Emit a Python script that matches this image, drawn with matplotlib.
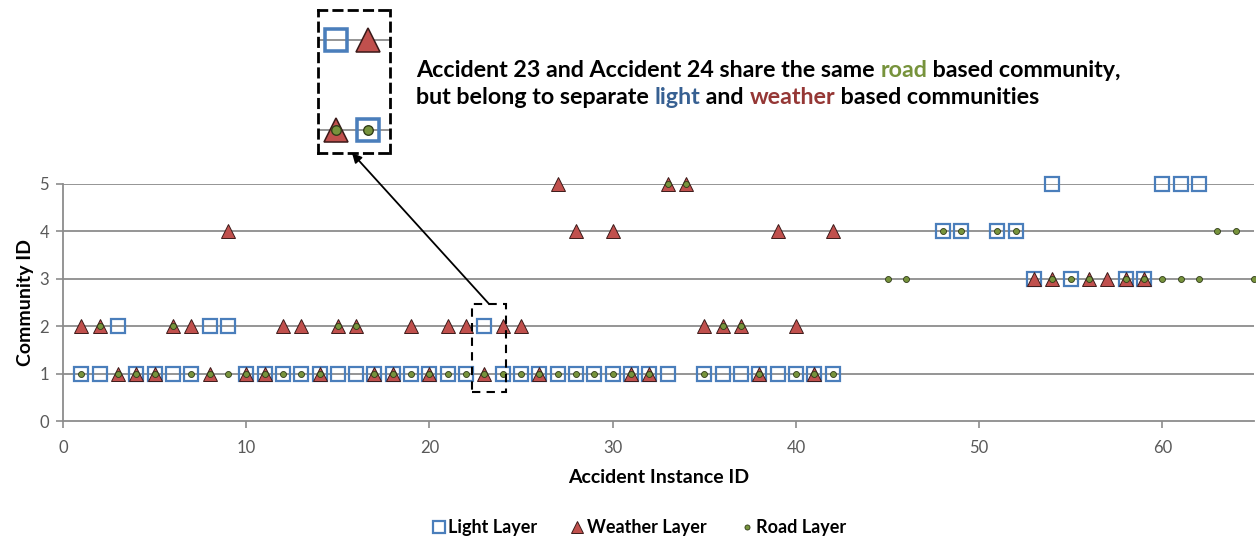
import numpy as np
import matplotlib
matplotlib.use("Agg")
import matplotlib.pyplot as plt
from matplotlib.patches import Rectangle

plt.rcParams['font.family'] = ['Lato', 'DejaVu Sans']

nan = np.nan
ids = np.arange(1, 66)

# community id per accident instance (nan = not drawn)
light = [1, 1, 2, 1, 1, 1, 1, 2, 2, 1,
         1, 1, 1, 1, 1, 1, 1, 1, 1, 1,
         1, 1, 2, 1, 1, 1, 1, 1, 1, 1,
         1, 1, 1, nan, 1, 1, 1, 1, 1, 1,
         1, 1, nan, nan, nan, nan, nan, 4, 4, nan,
         4, 4, 3, 5, 3, nan, nan, 3, 3, 5,
         5, 5, nan, nan, nan]
weather = [2, 2, 1, 1, 1, 2, 2, 1, 4, 1,
           1, 2, 2, 1, 2, 2, 1, 1, 2, 1,
           2, 2, 1, 2, 2, 1, 5, 4, nan, 4,
           1, 1, 5, 5, 2, 2, 2, 1, 4, 2,
           1, 4, nan, nan, nan, nan, nan, nan, nan, nan,
           nan, nan, 3, 3, nan, 3, 3, 3, 3, nan,
           nan, nan, nan, nan, nan]
road = [1, 2, 1, 1, 1, 2, 1, 1, 1, 1,
        1, 1, 1, 1, 2, 2, 1, 1, 1, 1,
        1, 1, 1, 1, 1, 1, 1, 1, 1, 1,
        1, 1, 5, 5, 1, 2, 2, 1, nan, 1,
        1, 1, nan, nan, 3, 3, nan, 4, 4, nan,
        4, 4, nan, 3, 3, 3, nan, 3, 3, 3,
        3, 3, 4, 4, 3]

zoom_ids = [23, 24]

blue = '#4A7EBB'
red = '#C0504D'
green = '#77933C'
grid_c = '#8C8C8C'
tick_c = '#595959'

W, H = 1256, 539
fig = plt.figure(figsize=(W / 100, H / 100), dpi=100)
ax = fig.add_axes([63 / W, 1 - 421 / H, (1254 - 63) / W, (421 - 184) / H])


def draw_layers(a, x, l, w, r, big=False):
    s = 1.6 if big else 1.0
    a.plot(x, l, ls='none', marker='s', ms=10 * s, mfc='none', mec=blue,
           mew=1.6 * s, clip_on=False, zorder=3, label='Light Layer')
    a.plot(x, w, ls='none', marker='^', ms=10.5 * s, mfc=red, mec='#3B1A19',
           mew=0.7 * s, clip_on=False, zorder=4, label='Weather Layer')
    a.plot(x, r, ls='none', marker='o', ms=4.3 * s, mfc=green, mec='#2E3A17',
           mew=0.6 * s, clip_on=False, zorder=5, label='Road Layer')


draw_layers(ax, ids, light, weather, road)

ax.set_xlim(0, 65)
ax.set_ylim(0, 5)
ax.set_xticks(range(0, 61, 10))
ax.set_yticks(range(0, 6))
for yv in range(1, 6):
    ax.axhline(yv, color=grid_c, lw=1.3, zorder=1)
for side in ['top', 'right']:
    ax.spines[side].set_visible(False)
for side in ['left', 'bottom']:
    ax.spines[side].set_color(grid_c)
    ax.spines[side].set_linewidth(1.3)
ax.tick_params(colors=grid_c, labelcolor=tick_c, labelsize=12, length=5,
               width=1.2, direction='out')
ax.tick_params(axis='x', pad=9)
ax.tick_params(axis='y', pad=5)
ax.set_xlabel('Accident Instance ID', fontsize=14, fontweight='bold',
              labelpad=9)
ax.set_ylabel('Community ID', fontsize=14, fontweight='bold', labelpad=4)

# dashed box around instances 23 and 24
ax.add_patch(Rectangle((22.3, 0.61), 1.9, 1.86, fill=False, ec='black',
                       lw=1.5, ls=(0, (4, 3)), clip_on=False, zorder=6))

# magnified view
ins = fig.add_axes([318 / W, 1 - 153 / H, 72 / W, 143 / H])
zi = [i - 1 for i in zoom_ids]
draw_layers(ins, zoom_ids, [light[i] for i in zi], [weather[i] for i in zi],
            [road[i] for i in zi], big=True)
ins.axhline(1, color=grid_c, lw=1.3, zorder=1)
ins.axhline(2, color=grid_c, lw=1.3, zorder=1)
ins.set_xlim(22.44, 24.69)
ins.set_ylim(0.744, 2.33)
ins.set_xticks([])
ins.set_yticks([])
for sp in ins.spines.values():
    sp.set_linestyle((0, (3, 2.5)))
    sp.set_linewidth(2)
    sp.set_color('black')

ax.annotate('', xy=(352, H - 153), xycoords='figure pixels',
            xytext=(23.25, 2.47), textcoords='data',
            arrowprops=dict(arrowstyle='-|>', color='black', lw=1.3,
                            mutation_scale=14, shrinkA=0, shrinkB=0))

# coloured annotation text
renderer = fig.canvas.get_renderer()


def text_width(s, size):
    t1 = fig.text(0, 0, '|' + s + '|', fontsize=size, fontweight='bold')
    t2 = fig.text(0, 0, '||', fontsize=size, fontweight='bold')
    w = t1.get_window_extent(renderer).width - t2.get_window_extent(renderer).width
    t1.remove()
    t2.remove()
    return w


line1 = [('Accident 23 and Accident 24 share the same ', 'black'),
         ('road', green), (' based community,', 'black')]
line2 = [('but belong to separate ', 'black'), ('light', '#376092'),
         (' and ', 'black'), ('weather', '#953735'),
         (' based communities', 'black')]

fs = 14.0
full = ''.join(p for p, c in line1)
fs = fs * 711 / text_width(full, fs)


def colour_line(parts, x0, base):
    x = x0
    for s, c in parts:
        fig.text(x / W, 1 - base / H, s, color=c, fontsize=fs,
                 fontweight='bold', va='baseline', ha='left')
        x += text_width(s, fs)


colour_line(line1, 416, 77)
colour_line(line2, 416, 104)

fig.legend(*ax.get_legend_handles_labels(), loc='lower center',
           bbox_to_anchor=(0.508, -0.025), ncol=3, frameon=False,
           prop=dict(size=13, weight='bold'), handletextpad=0.05,
           columnspacing=1.7, handlelength=1.0, markerscale=0.85)

fig.savefig('out.png', dpi=100)
